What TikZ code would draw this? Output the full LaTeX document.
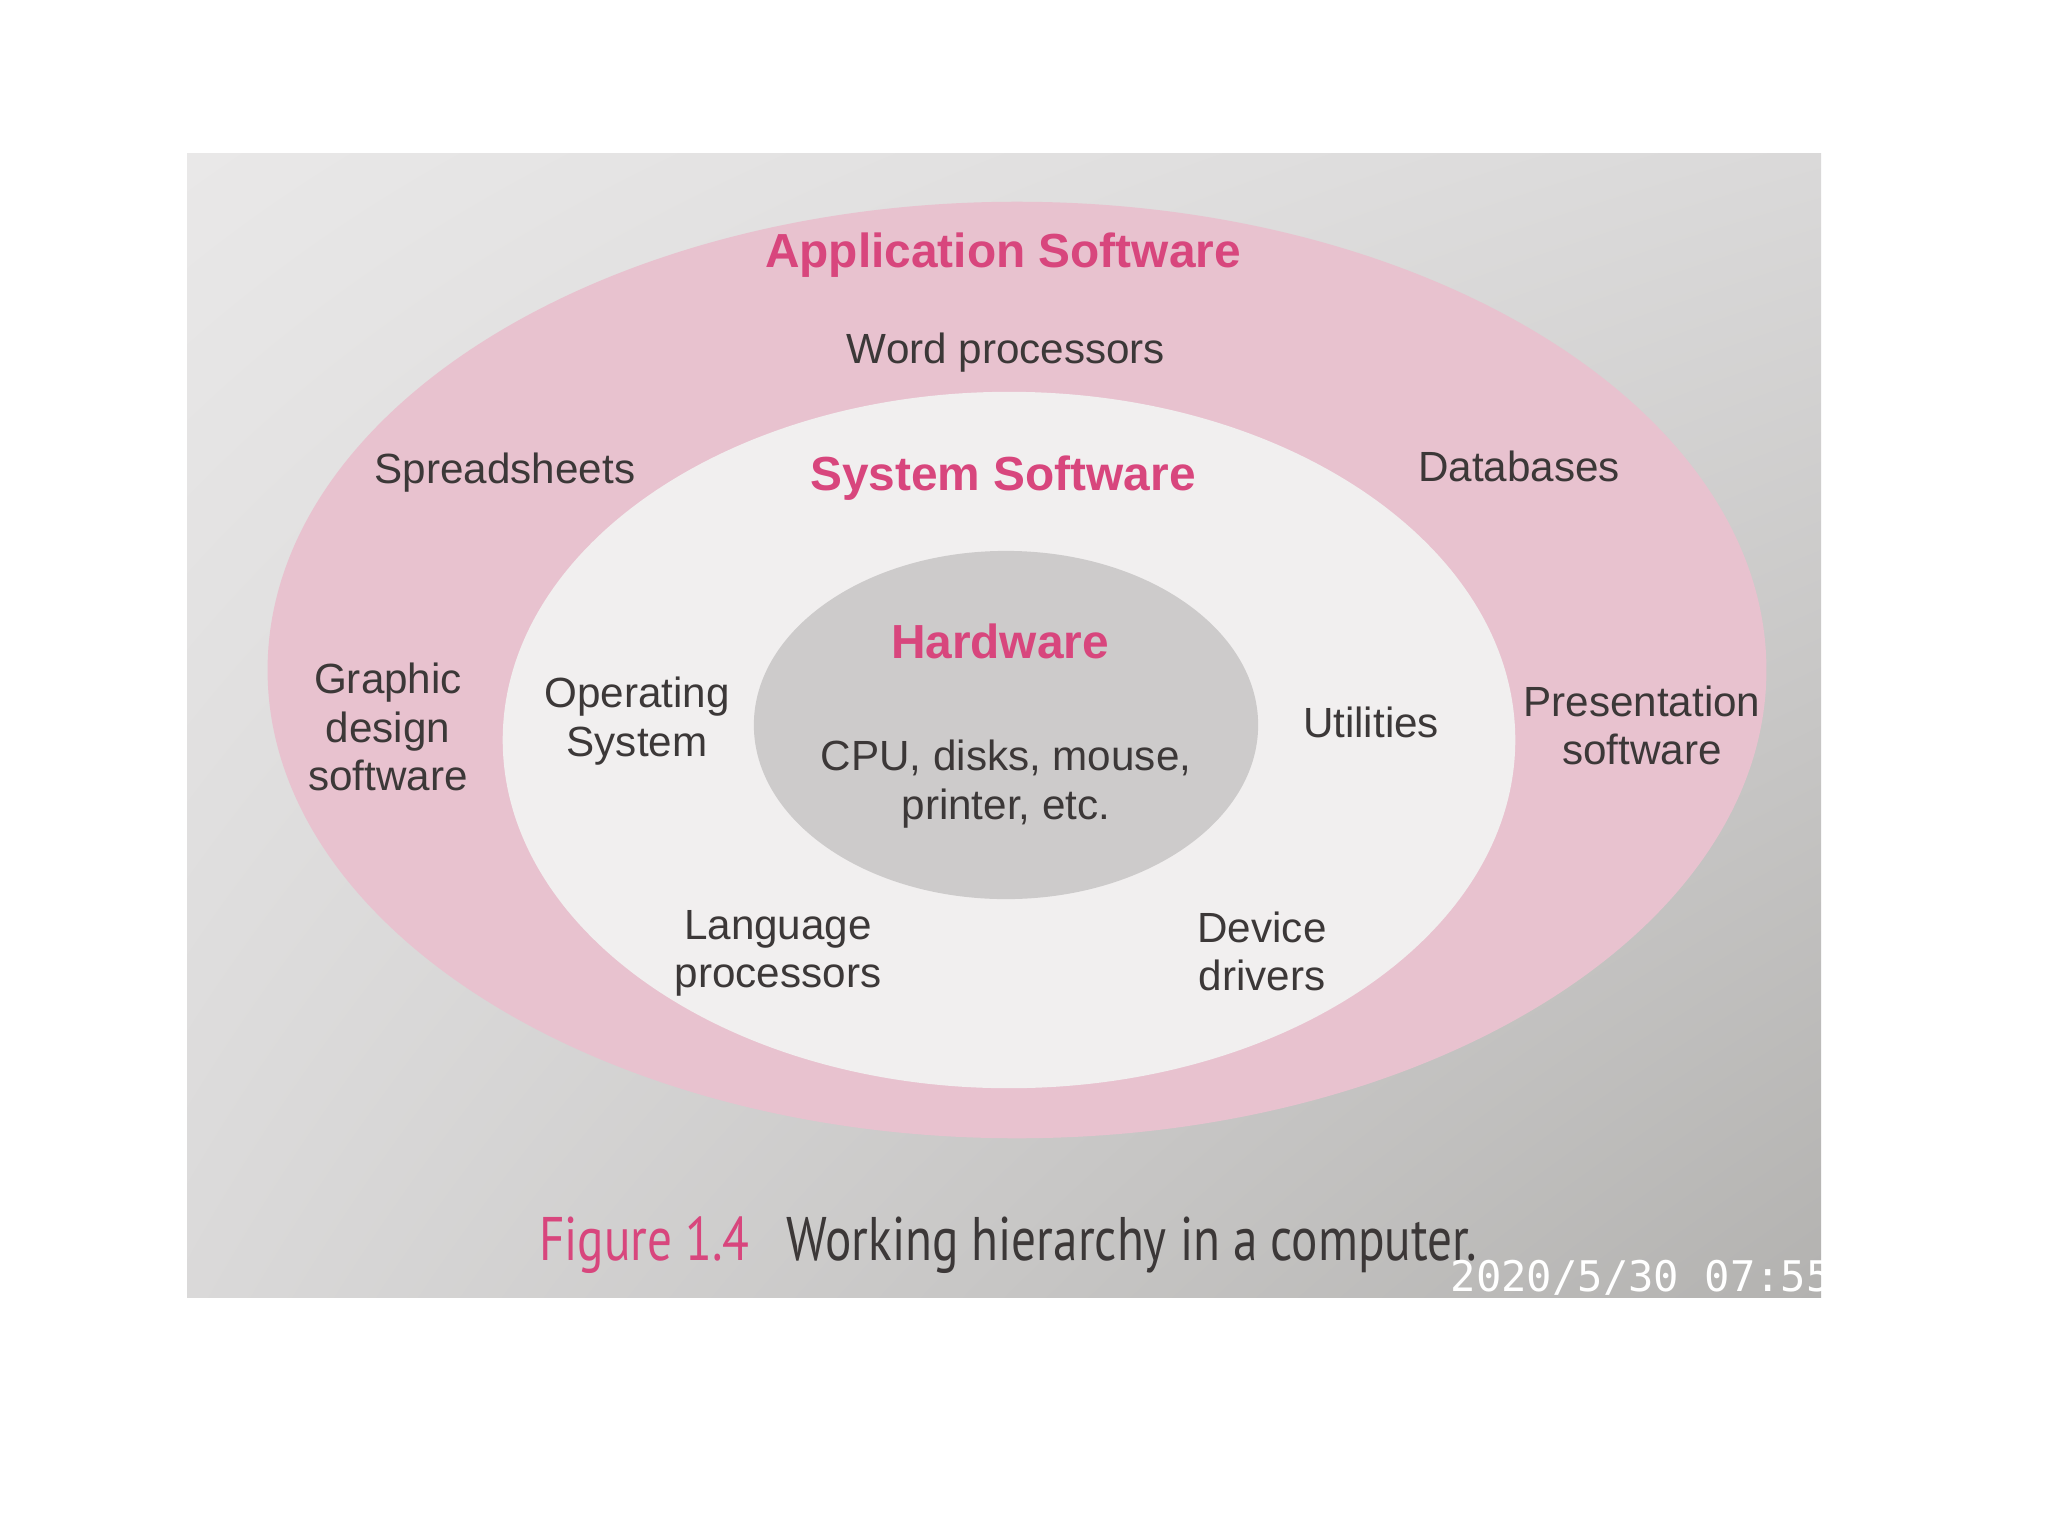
\documentclass[tikz,border=0pt]{standalone}
\usepackage{fontspec}
\usetikzlibrary{shadings}
\setmainfont{Liberation Sans}
\newfontfamily\captionfont[FakeStretch=0.8]{PT Sans}
\newfontfamily\stampfont{DejaVu Sans Mono}

\definecolor{paperlight}{HTML}{E9E8E8}
\definecolor{papermid}{HTML}{DAD9D9}
\definecolor{paperdark}{HTML}{B3B2B0}
\definecolor{ringpink}{HTML}{E8C2CF}
\definecolor{ringwhite}{HTML}{F1EFEF}
\definecolor{coregray}{HTML}{CDCBCB}
\definecolor{inkpink}{HTML}{D8467D}
\definecolor{inktext}{HTML}{3C3838}

\tikzset{
    label/.style={font=\fontsize{12}{13.7}\selectfont, text=inktext, align=center, inner sep=0pt},
    layer/.style={font=\fontsize{13.6}{16}\selectfont\bfseries, text=inkpink, inner sep=0pt},
}

\begin{document}
\begin{tikzpicture}[x=0.01cm, y=-0.01cm]
        \useasboundingbox (0, 0) rectangle (2048, 1536);
        \fill[white] (0, 0) rectangle (2048, 1536);
        \shade[upper left=paperlight, upper right=papermid, lower left=papermid, lower right=paperdark]
            (187, 153) rectangle (1821, 1297);
        % the three layers
        \fill[ringpink] (1017, 670) ellipse [x radius=7.49cm, y radius=4.68cm];
        \fill[ringwhite] (1009, 740) ellipse [x radius=5.06cm, y radius=3.48cm];
        \fill[coregray] (1006, 725) ellipse [x radius=2.52cm, y radius=1.74cm];
        % application software
        \node[layer] (app) at (1003, 255) {Application Software};
        \node[label] (word) at (1006, 353) {Word processors};
        \node[label] (sheets) at (505, 473) {Spreadsheets};
        \node[label] (db) at (1519, 466) {Databases};
        \node[label] (graphic) at (388, 727) {Graphic\\design\\software};
        \node[label] (present) at (1642, 725) {Presentation\\software};
        % system software
        \node[layer] (sys) at (1003, 478) {System Software};
        \node[label] (os) at (637, 721) {Operating\\System};
        \node[label] (util) at (1371, 722) {Utilities};
        \node[label] (lang) at (778, 953) {Language\\processors};
        \node[label] (drivers) at (1262, 951) {Device\\drivers};
        % hardware
        \node[layer] (hw) at (1000, 641) {Hardware};
        \node[label] (devices) at (1006, 784) {CPU, disks, mouse,\\printer, etc.};
        % caption and stamp
        \node[inner sep=0pt, text=inktext] (caption) at (1008, 1245)
            {\captionfont\fontsize{17.5}{20}\selectfont\textcolor{inkpink}{Figure 1.4}\hspace{0.6em}Working hierarchy in a computer.};
        \begin{scope}
            \clip (187, 153) rectangle (1821, 1297);
            \node[anchor=west, inner sep=0pt, text=white] (stamp) at (1450, 1278)
                {\stampfont\fontsize{12}{14}\selectfont 2020/5/30 07:55};
        \end{scope}
    \end{tikzpicture}
\end{document}
